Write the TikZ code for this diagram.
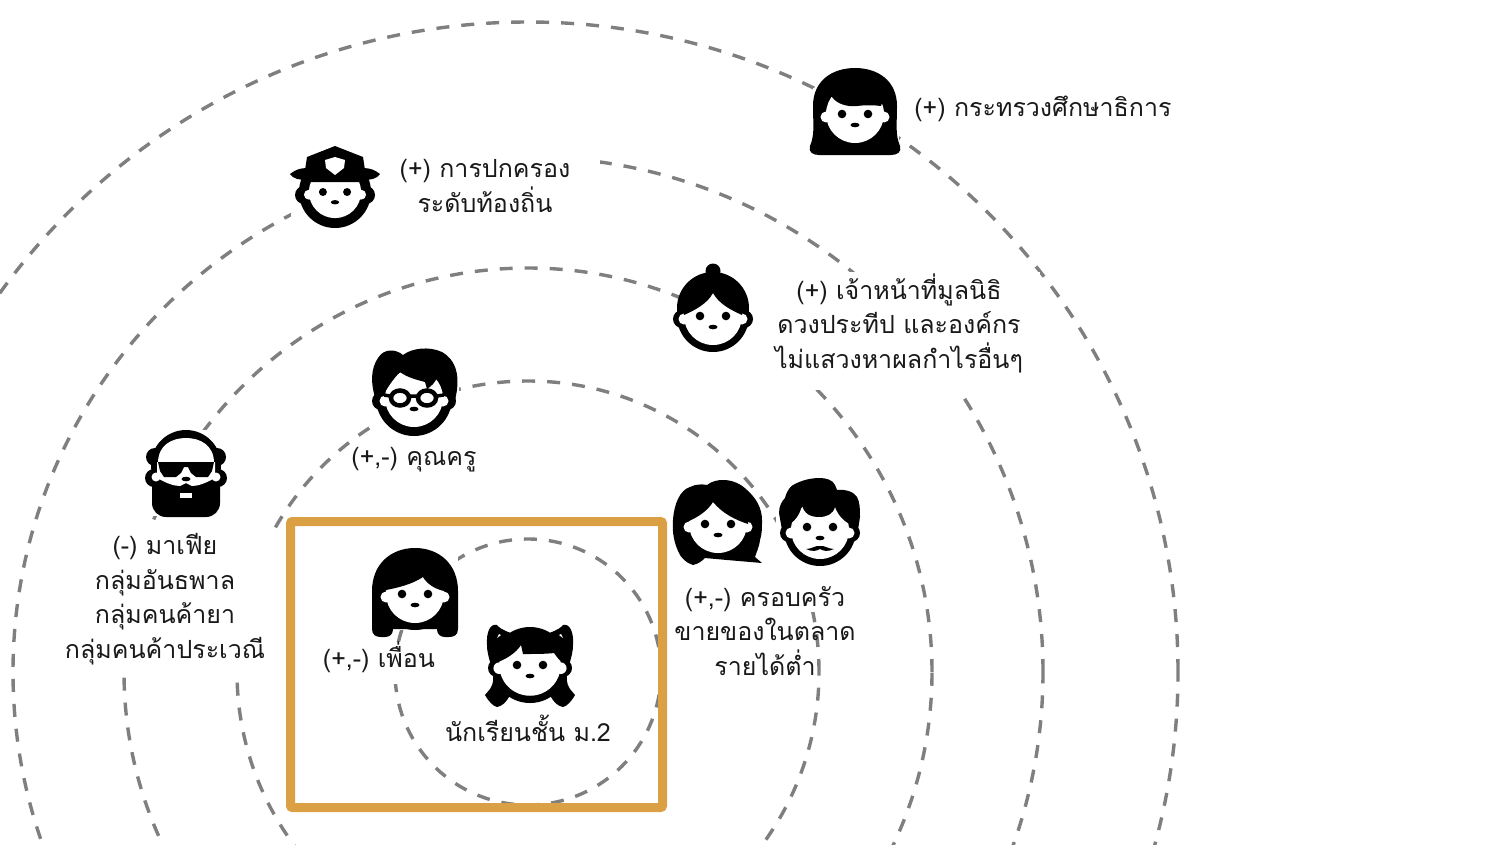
\documentclass[tikz,border=0pt]{standalone}
\usepackage{fontspec}
\newfontfamily\thaifont[Script=Thai]{Loma}
\definecolor{ringgray}{HTML}{7F7F7F}
\definecolor{boxorange}{HTML}{DBA044}
\tikzset{
    ring/.style={ringgray, line width=3.4pt, dash pattern=on 13pt off 12pt},
    gapmask/.style={fill=white},
    lbl/.style={font=\thaifont\fontsize{25}{34.5}\selectfont, align=center, text=black!90},
    % round black outline behind a face
    facering/.pic={
        \fill[black] (0,0) circle (36pt);
        \fill[black] (-31,3) circle (9pt) (31,3) circle (9pt);
    },
    % white face with ears
    faceplain/.pic={
        \fill[white] (-29,3) circle (5.5pt) (29,3) circle (5.5pt);
        \fill[white] (0,0) circle (29pt);
    },
    % eyes and mouth
    faceeyes/.pic={
        \fill[black] (-13,0) circle (4.3pt) (13,0) circle (4.3pt);
        \fill[black] (0,11) ellipse (4.5pt and 2.3pt);
    },
    % woman with long straight hair
    iconministry/.pic={
        \fill[black] (-45,32) .. controls (-40,20) and (-42,10) .. (-42,-8)
            .. controls (-42,-34) and (-22,-46) .. (0,-46)
            .. controls (22,-46) and (42,-34) .. (42,-8)
            .. controls (42,10) and (40,20) .. (45,32)
            .. controls (47,38) and (42,41) .. (36,41) -- (-36,41)
            .. controls (-42,41) and (-47,38) .. (-45,32) -- cycle;
        \pic {faceplain};
        \fill[black] (-23,-17) .. controls (-18,-10) and (-8,-7) .. (2,-8)
            .. controls (10,-9) and (18,-9) .. (26,-8) -- (30,-20) -- (0,-33) -- (-30,-20) -- cycle;
        \pic {faceeyes};
    },
    % officer with hat
    iconpolice/.pic={
        \pic {facering};
        \pic[scale=.9] {faceplain};
        \fill[black] (-30,-10) -- (-30,-22) -- (-28,-35) -- (0,-46) -- (28,-35) -- (30,-22) -- (30,-10) -- cycle;
        \fill[black] (-45,-18) .. controls (-40,-22) and (-35,-24) .. (-28,-24) -- (28,-24)
            .. controls (35,-24) and (40,-22) .. (45,-18)
            .. controls (42,-13) and (35,-12) .. (28,-12) -- (-28,-12)
            .. controls (-35,-12) and (-42,-13) .. (-45,-18) -- cycle;
        \fill[white] (-10,-32) -- (0,-35) -- (10,-32) -- (9,-24) -- (0,-17) -- (-9,-24) -- cycle;
        \pic[scale=.93] {faceeyes};
    },
    % woman with hair in a bun
    iconbun/.pic={
        \fill[black] (0,-45) circle (7.5pt);
        \fill[black] (0,-8) circle (36pt);
        \pic {facering};
        \pic {faceplain};
        \fill[black] (-29,-1) .. controls (-18,-6) and (-6,-12) .. (0,-23)
            .. controls (6,-12) and (18,-6) .. (29,-1) -- (30,-20) -- (0,-33) -- (-30,-20) -- cycle;
        \pic {faceeyes};
    },
    % teacher with glasses
    iconteacher/.pic={
        \fill[black] (-38,2) .. controls (-44,-15) and (-43,-30) .. (-36,-40)
            .. controls (-30,-50) and (-18,-49) .. (-11,-43)
            .. controls (-2,-50) and (15,-52) .. (28,-46)
            .. controls (42,-38) and (47,-22) .. (41,2) -- cycle;
        \fill[black] (0,0) circle (38pt);
        \fill[black] (-33,3) circle (9pt) (33,3) circle (9pt);
        \pic {faceplain};
        \fill[black] (-29,-6) .. controls (-24,-14) and (-20,-20) .. (-14,-26)
            .. controls (-6,-20) and (4,-18) .. (11,-16) -- (13,-9)
            .. controls (18,-12) and (21,-16) .. (23,-20)
            .. controls (26,-15) and (28,-10) .. (30,-4) -- (31,-20) -- (0,-33) -- (-31,-20) -- cycle;
        \draw[black, line width=4.5pt, fill=white] (-14,0) ellipse (9pt and 7.5pt) (13,0) ellipse (9pt and 7.5pt);
        \draw[black, line width=3.5pt] (-4,-2) -- (4,-2) (-24,-2) -- (-30,-3) (23,-2) -- (30,-3);
        \fill[black] (0,11) ellipse (4.5pt and 2.3pt);
    },
    % bald man with beard and sunglasses
    iconmafia/.pic={
        \fill[black] (0,-8) circle (35pt);
        \fill[black] (-31,-16) circle (9pt) (31,-16) circle (9pt);
        \fill[black] (-32,5) circle (9pt) (32,5) circle (9pt);
        \fill[black, rounded corners=14pt] (-34,0) rectangle (34,44);
        \fill[white] (-30,4) circle (4.5pt) (30,4) circle (4.5pt);
        \fill[white] (-28,-10) .. controls (-28,-28) and (-14,-35) .. (0,-35)
            .. controls (14,-35) and (28,-28) .. (28,-10) -- cycle;
        \fill[white] (-29,-11) -- (29,-11) -- (29,5) -- (27,6)
            .. controls (20,10) and (12,13) .. (6,13) -- (0,10) -- (-6,13)
            .. controls (-12,13) and (-20,10) .. (-27,6) -- (-29,5) -- cycle;
        \fill[black] (-28,-11) -- (28,-11) -- (26,-2) -- (22,4) -- (10,4) -- (5,0) -- (2,-6)
            -- (-2,-6) -- (-5,0) -- (-10,4) -- (-22,4) -- (-26,-2) -- cycle;
        \fill[black] (0,6) ellipse (4.5pt and 2.3pt);
        \fill[white] (-6,20) rectangle (6,25);
    },
    % woman with parted hair
    iconmother/.pic={
        \fill[black] (-45,-4) .. controls (-44,-20) and (-38,-34) .. (-28,-37)
            .. controls (-22,-40) and (-16,-40) .. (-11,-39)
            .. controls (-6,-43) and (0,-44) .. (5,-44)
            .. controls (16,-44) and (24,-39) .. (29,-34)
            .. controls (38,-26) and (44,-16) .. (44,-4)
            .. controls (44,4) and (44,10) .. (42,16)
            .. controls (41,24) and (38,29) .. (37,33) -- (44,39) -- (9,36) -- (-13,34)
            .. controls (-16,37) and (-20,40) .. (-25,41)
            .. controls (-32,39) and (-36,34) .. (-38,31)
            .. controls (-44,20) and (-46,8) .. (-45,-4) -- cycle;
        \pic {faceplain};
        \fill[black] (-29,-3) .. controls (-18,-8) and (-10,-14) .. (-5,-22)
            .. controls (5,-10) and (18,-4) .. (30,0) -- (31,-20) -- (0,-33) -- (-31,-20) -- cycle;
        \pic {faceeyes};
    },
    % man with moustache
    iconfather/.pic={
        \fill[black] (-38,0) -- (-41,-17) .. controls (-41,-24) and (-38,-29) .. (-35,-32)
            .. controls (-33,-40) and (-29,-44) .. (-27,-45)
            .. controls (-18,-50) and (-9,-52) .. (0,-52)
            .. controls (6,-52) and (13,-50) .. (15,-45) -- (17,-40)
            .. controls (26,-41) and (34,-38) .. (37,-33)
            .. controls (40,-28) and (40,-20) .. (40,-13) -- (38,0) -- cycle;
        \pic {facering};
        \pic {faceplain};
        \fill[black] (-32,-5) .. controls (-26,-8) and (-20,-15) .. (-18,-25)
            .. controls (-16,-16) and (-9,-13) .. (-1,-13)
            .. controls (7,-13) and (13,-16) .. (15,-23)
            .. controls (18,-15) and (24,-8) .. (32,-5) -- (31,-20) -- (0,-33) -- (-31,-20) -- cycle;
        \pic at (0,-3) {faceeyes};
        \fill[black] (-14,19) .. controls (-8,19) and (-4,15) .. (0,16)
            .. controls (4,15) and (8,19) .. (14,19)
            .. controls (8,22) and (3,21) .. (0,19)
            .. controls (-3,21) and (-8,22) .. (-14,19) -- cycle;
    },
    % friend with long hair and separate locks
    iconfriend/.pic={
        \fill[black] (-43,35) -- (-43,-3) .. controls (-43,-30) and (-24,-46) .. (0,-46)
            .. controls (24,-46) and (43,-30) .. (43,-3) -- (43,35)
            .. controls (43,41) and (39,43) .. (34,43) -- (30,43)
            .. controls (25,43) and (22,40) .. (22,35) -- (-22,35)
            .. controls (-22,40) and (-25,43) .. (-30,43) -- (-34,43)
            .. controls (-39,43) and (-43,41) .. (-43,35) -- cycle;
        \fill[black] (0,0) circle (36pt);
        \pic {faceplain};
        \fill[black] (-29,-4) .. controls (-18,-6) and (-2,-10) .. (8,-17)
            .. controls (12,-10) and (20,-5) .. (29,-3) -- (31,-20) -- (0,-33) -- (-31,-20) -- cycle;
        \pic {faceeyes};
    },
    % student with pigtails
    iconstudent/.pic={
        \foreach \sx in {-1,1} {
            \begin{scope}[xscale=\sx]
                \fill[black] (-33,-40) .. controls (-40,-42) and (-44,-32) .. (-43,-20)
                    .. controls (-43,-12) and (-41,-8) .. (-38,5)
                    .. controls (-36,12) and (-36,18) .. (-40,24) -- (-45,30)
                    .. controls (-41,37) and (-37,41) .. (-33,42)
                    .. controls (-28,41) and (-24,38) .. (-20,30) -- (-15,-30)
                    .. controls (-20,-33) and (-28,-34) .. (-33,-40) -- cycle;
                \fill[white] (-33,-27) -- (-31,-31) -- (-29,-30) -- cycle;
            \end{scope}
        }
        \fill[black] (0,0) circle (38pt);
        \fill[black] (-33,3) circle (9pt) (33,3) circle (9pt);
        \pic[scale=1.06] {faceplain};
        \fill[black] (-32,-3) .. controls (-24,-6) and (-14,-12) .. (-9,-20) -- (-7,-11)
            .. controls (5,-11) and (16,-11) .. (24,-12)
            .. controls (27,-8) and (29,-5) .. (32,-3) -- (33,-20) -- (0,-35) -- (-33,-20) -- cycle;
        \pic {faceeyes};
    },
}

\begin{document}
\begin{tikzpicture}[x=1pt,y=-1pt]
    \clip (0,0) rectangle (1506,844);

    % Rings
    \foreach \r in {133,291,404,515,650}
        \draw[ring] (528,672) circle (\r pt);

    % Gaps in the rings
    \foreach \xa/\ya/\xb/\yb in {291/146/600/228, 758/272/1040/390, 62/524/272/676,
        146/430/226/516, 378/350/459/436, 680/265/752/352, 372/548/458/630,
        318/642/440/684, 813/88/899/141, 776/510/865/612}
        \fill[gapmask] (\xa,\ya) rectangle (\xb,\yb);

    % Frame round the student
    \draw[boxorange, line width=9pt, rounded corners=2pt] (290.5,521.5) rectangle (662.5,807.5);

    % Labels
    \node[lbl] (ministry) at (1043,109) {(+) กระทรวงศึกษาธิการ};
    \node[lbl] (local) at (485,186) {(+) การปกครอง\\ระดับท้องถิ่น};
    \node[lbl] (foundation) at (899,323) {(+) เจ้าหน้าที่มูลนิธิ\\ดวงประทีป และองค์กร\\ไม่แสวงหาผลกำไรอื่นๆ};
    \node[lbl] (teacher) at (414,460) {(+,-) คุณครู};
    \node[lbl] (mafia) at (165,599) {(-) มาเฟีย\\กลุ่มอันธพาล\\กลุ่มคนค้ายา\\กลุ่มคนค้าประเวณี};
    \node[lbl] (family) at (765,631) {(+,-) ครอบครัว\\ขายของในตลาด\\รายได้ต่ำ};
    \node[lbl] (friend) at (379,657) {(+,-) เพื่อน};
    \node[lbl] (student) at (528,728) {นักเรียนชั้น ม.2};

    % Faces
    \pic at (855,114) {iconministry};
    \pic at (335,192) {iconpolice};
    \pic at (713,316) {iconbun};
    \pic at (414,398) {iconteacher};
    \pic at (186,473) {iconmafia};
    \pic at (718,524) {iconmother};
    \pic at (820,530) {iconfather};
    \pic at (415,594) {iconfriend};
    \pic at (530,665) {iconstudent};
\end{tikzpicture}
\end{document}
